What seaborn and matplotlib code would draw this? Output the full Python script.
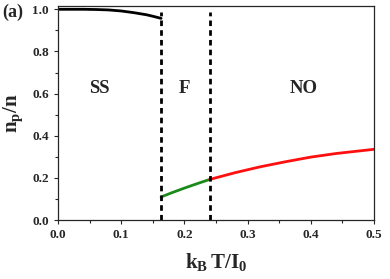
import matplotlib
matplotlib.use('Agg')
import matplotlib.pyplot as plt
import seaborn as sns
import numpy as np
import pandas as pd
from matplotlib.ticker import MultipleLocator

# curve data
ss_x = [0.0, 0.02, 0.04, 0.06, 0.08, 0.10, 0.12, 0.14, 0.15, 0.163]
ss_y = [1.0, 1.0, 1.0, 0.999, 0.997, 0.992, 0.984, 0.974, 0.967, 0.957]
f_x = [0.163, 0.18, 0.20, 0.22, 0.24]
f_y = [0.110, 0.130, 0.152, 0.173, 0.193]
no_x = [0.24, 0.28, 0.32, 0.36, 0.40, 0.44, 0.50]
no_y = [0.193, 0.225, 0.253, 0.277, 0.299, 0.316, 0.336]
boundaries = [0.163, 0.24]
regions = ['SS', 'F', 'NO']
region_x = [0.066, 0.20, 0.388]

sns.set_style('ticks')
plt.rcParams['font.family'] = ['Liberation Serif', 'DejaVu Serif']
plt.rcParams['font.weight'] = 'bold'
plt.rcParams['mathtext.fontset'] = 'custom'
plt.rcParams['mathtext.bf'] = 'Liberation Serif:bold'
plt.rcParams['mathtext.rm'] = 'Liberation Serif:bold'

fig, ax = plt.subplots(figsize=(3.9, 2.79), dpi=100)
fig.subplots_adjust(left=0.149, right=0.959, top=0.978, bottom=0.211)

df_ss = pd.DataFrame({'x': ss_x, 'y': ss_y})
df_f = pd.DataFrame({'x': f_x, 'y': f_y})
df_no = pd.DataFrame({'x': no_x, 'y': no_y})
sns.lineplot(data=df_ss, x='x', y='y', ax=ax, color='black', lw=2.0)
sns.lineplot(data=df_f, x='x', y='y', ax=ax, color='#1a8a1a', lw=2.0)
sns.lineplot(data=df_no, x='x', y='y', ax=ax, color='#ff1010', lw=2.0)

for b in boundaries:
    ax.plot([b, b], [0, 0.985], color='black', lw=2.0, ls=(0, (2.0, 1.5)))

for lab, rx in zip(regions, region_x):
    ax.text(rx, 0.625, lab, fontsize=13.5, fontweight='bold', ha='center', va='center')

ax.set_xlim(0, 0.5)
ax.set_ylim(0, 1.015)
ax.xaxis.set_major_locator(MultipleLocator(0.1))
ax.xaxis.set_minor_locator(MultipleLocator(0.05))
ax.yaxis.set_major_locator(MultipleLocator(0.2))
ax.yaxis.set_minor_locator(MultipleLocator(0.1))
ax.tick_params(which='major', length=3, width=0.8, labelsize=9.5)
ax.tick_params(which='minor', length=2, width=0.8)
ax.set_xticks([0.0, 0.1, 0.2, 0.3, 0.4, 0.5])
ax.set_xticklabels(['0.0', '0.1', '0.2', '0.3', '0.4', '0.5'], fontweight='bold', fontsize=9.5)
ax.set_yticks([0.0, 0.2, 0.4, 0.6, 0.8, 1.0])
ax.set_yticklabels(['0.0', '0.2', '0.4', '0.6', '0.8', '1.0'], fontweight='bold', fontsize=9.5)
for s in ax.spines.values():
    s.set_linewidth(0.9)
    s.set_visible(True)

ax.set_xlabel(r'$\mathbf{k_B\,T/I_0}$', fontsize=15, labelpad=7)
ax.set_ylabel(r'$\mathbf{n_p/n}$', fontsize=15, labelpad=5)
fig.text(0.005, 0.955, '(a)', fontsize=13, fontweight='bold', va='center')

fig.savefig('out.png', dpi=100)
